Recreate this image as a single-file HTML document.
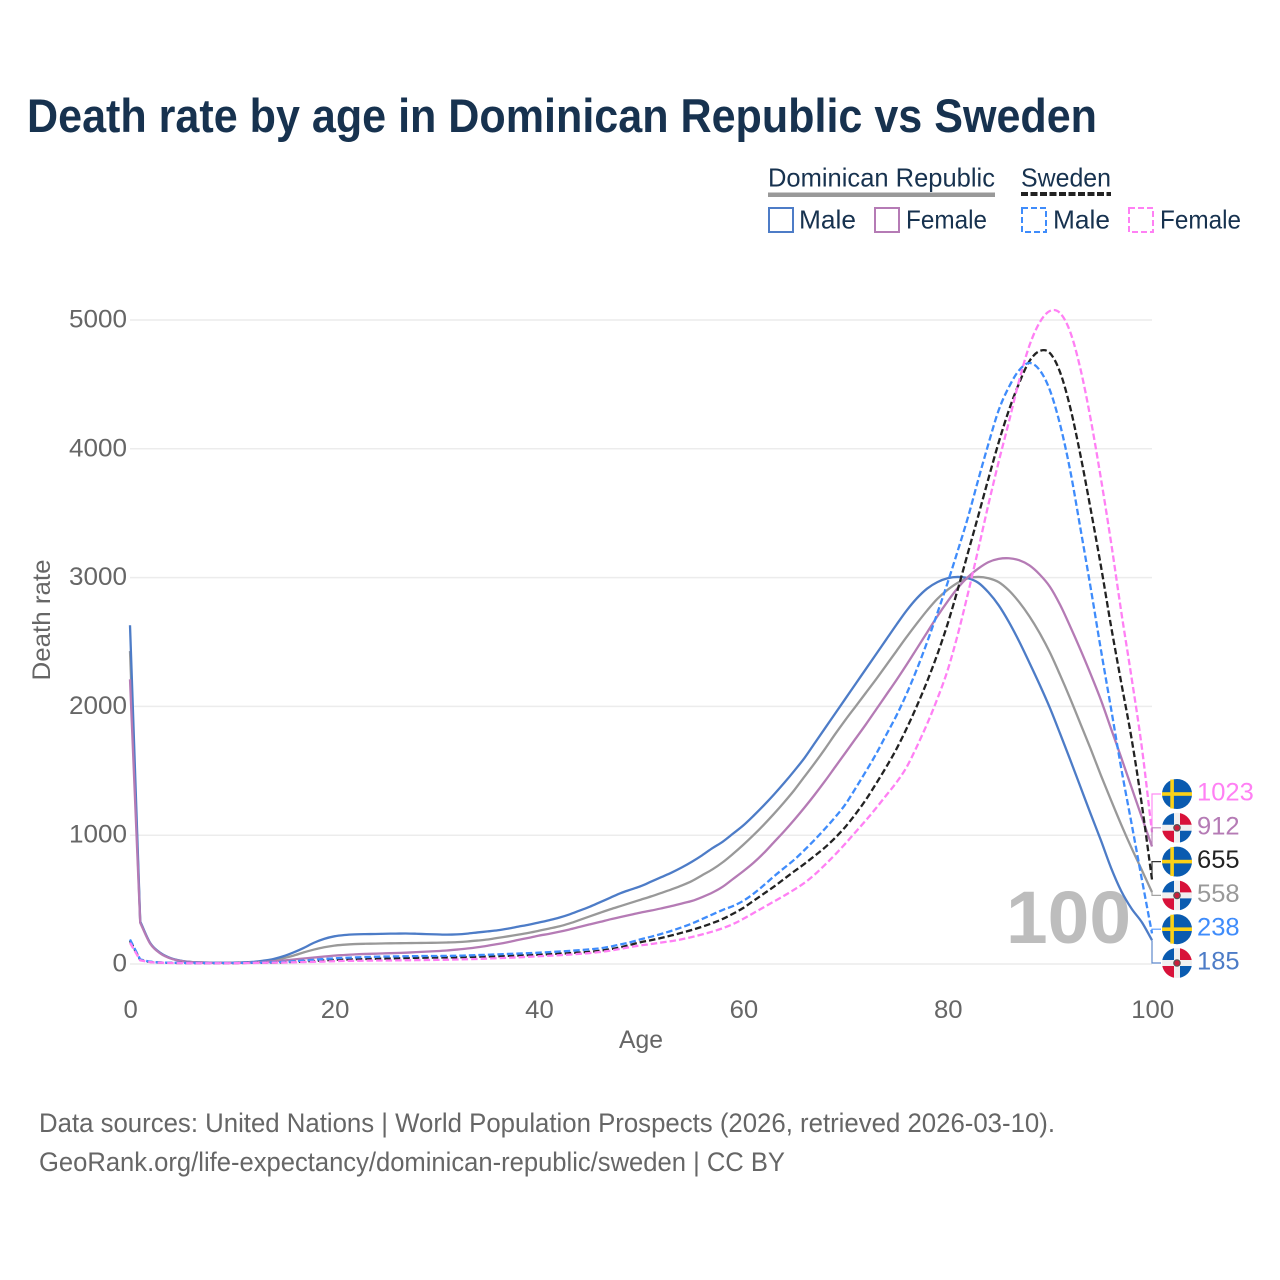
<!DOCTYPE html>
<html lang="en">
<head>
<meta charset="utf-8">
<title>Death rate by age in Dominican Republic vs Sweden</title>
<style>
html,body{margin:0;padding:0;background:#fff;}
svg{display:block;}
text{font-family:"Liberation Sans",sans-serif;}
</style>
</head>
<body>
<svg id="chart" xmlns="http://www.w3.org/2000/svg" width="1280" height="1280" viewBox="0 0 1280 1280">
  <rect x="0" y="0" width="1280" height="1280" fill="#fff"/>
  <text x="27" y="132" font-size="47" font-weight="700" fill="#17324f" textLength="1070" lengthAdjust="spacingAndGlyphs">Death rate by age in Dominican Republic vs Sweden</text>

  <g font-size="26" fill="#17324f">
    <text x="768" y="186.5" textLength="227" lengthAdjust="spacingAndGlyphs">Dominican Republic</text>
    <rect x="768" y="192.5" width="227" height="4.5" fill="#999"/>
    <text x="1021" y="186.5" textLength="90" lengthAdjust="spacingAndGlyphs">Sweden</text>
    <line x1="1021" y1="194" x2="1111" y2="194" stroke="#222" stroke-width="4" stroke-dasharray="7 2.5"/>
    <rect x="769" y="208" width="24" height="24" fill="none" stroke="#4d7cc7" stroke-width="2"/>
    <text x="799" y="228.5" textLength="57" lengthAdjust="spacingAndGlyphs">Male</text>
    <rect x="875" y="208" width="24" height="24" fill="none" stroke="#b57bb5" stroke-width="2"/>
    <text x="906" y="228.5" textLength="81" lengthAdjust="spacingAndGlyphs">Female</text>
    <rect x="1022" y="208" width="24" height="24" fill="none" stroke="#3f8cfb" stroke-width="2" stroke-dasharray="6 3"/>
    <text x="1053" y="228.5" textLength="57" lengthAdjust="spacingAndGlyphs">Male</text>
    <rect x="1129" y="208" width="24" height="24" fill="none" stroke="#ff80f4" stroke-width="2" stroke-dasharray="6 3"/>
    <text x="1160" y="228.5" textLength="81" lengthAdjust="spacingAndGlyphs">Female</text>
  </g>

  <g id="grid"></g>
  <g id="yticks" font-size="25" fill="#666"></g>
  <g id="xticks" font-size="25" fill="#666"></g>
  <text transform="translate(50,620) rotate(-90)" text-anchor="middle" font-size="25" fill="#666" textLength="121" lengthAdjust="spacingAndGlyphs">Death rate</text>
  <text x="641" y="1048" text-anchor="middle" font-size="25" fill="#666" textLength="44" lengthAdjust="spacingAndGlyphs">Age</text>

  <text id="age-marker" x="1006" y="943" font-size="74" font-weight="700" fill="#bdbdbd" textLength="125" lengthAdjust="spacingAndGlyphs">100</text>

  <g id="series"></g>
  <g id="labels"></g>

  <text x="39" y="1132" font-size="27" fill="#666" textLength="1016" lengthAdjust="spacingAndGlyphs">Data sources: United Nations | World Population Prospects (2026, retrieved 2026-03-10).</text>
  <text x="39" y="1171" font-size="27" fill="#666" textLength="746" lengthAdjust="spacingAndGlyphs">GeoRank.org/life-expectancy/dominican-republic/sweden | CC BY</text>
</svg>
<script>
const yTickValues = [0, 1000, 2000, 3000, 4000, 5000];
const xTickValues = [0, 20, 40, 60, 80, 100];

const drTotal = [
  2430,325,158,82,43,24,15,12,10,10,
  10,11,14,20,30,45,65,90,112,130,
  143,150,155,157,158,160,161,162,163,164,
  165,167,170,175,182,190,203,215,228,242,
  258,275,292,315,342,370,398,425,450,475,
  500,525,552,580,610,645,690,735,790,855,
  925,1000,1080,1165,1255,1350,1455,1560,1670,1785,
  1895,2000,2105,2210,2320,2430,2540,2645,2745,2835,
  2905,2960,2995,3005,2995,2965,2900,2810,2700,2570,
  2420,2245,2060,1865,1670,1465,1270,1080,900,730,
  558];
const drMale = [
  2630,330,160,85,45,25,15,12,10,10,
  10,12,16,25,38,60,90,125,165,195,
  215,225,230,232,233,235,236,237,235,232,
  230,228,230,236,245,253,262,275,290,305,
  322,340,360,385,415,445,480,515,550,578,
  605,640,675,710,750,795,845,900,950,1012,
  1075,1150,1230,1315,1405,1500,1600,1715,1830,1945,
  2060,2175,2290,2405,2520,2635,2745,2840,2915,2965,
  2995,3005,2995,2960,2885,2785,2655,2505,2340,2170,
  1990,1790,1585,1375,1165,960,745,565,430,325,
  185];
const drFemale = [
  2210,320,155,80,42,23,14,11,9,9,
  9,10,12,15,20,27,35,43,50,58,
  65,70,75,78,80,83,85,88,92,96,
  100,105,112,120,130,142,155,170,187,203,
  220,234,250,268,288,308,327,347,365,382,
  400,415,432,450,470,490,520,555,600,660,
  720,785,860,945,1030,1120,1215,1315,1420,1530,
  1640,1750,1860,1975,2090,2205,2325,2450,2575,2700,
  2815,2920,3005,3070,3120,3145,3150,3135,3095,3025,
  2930,2790,2620,2440,2250,2050,1825,1600,1370,1140,
  912];
const swTotal = [
  180,32,16,11,9,8,7,7,7,7,
  7,8,9,10,11,13,16,20,24,28,
  32,35,37,39,41,42,44,46,48,49,
  50,51,52,54,56,58,60,63,66,69,
  72,76,80,84,89,95,103,115,130,150,
  170,185,203,222,243,265,290,318,350,390,
  435,490,545,600,660,720,778,840,905,980,
  1065,1165,1275,1400,1530,1670,1830,2005,2195,2405,
  2640,2910,3195,3480,3770,4050,4300,4510,4680,4759,
  4744,4596,4320,3950,3530,3090,2620,2180,1750,1240,
  655];
const swMale = [
  190,35,18,12,10,9,8,8,8,8,
  8,9,10,11,13,16,21,27,33,39,
  44,48,51,54,56,58,59,60,61,62,
  62,63,64,66,69,72,75,78,81,84,
  88,92,97,102,108,114,122,135,152,170,
  192,212,234,258,285,315,350,385,420,450,
  490,545,610,680,745,810,885,965,1050,1140,
  1240,1365,1495,1630,1780,1930,2100,2290,2500,2725,
  2960,3210,3470,3760,4040,4300,4480,4610,4666,4612,
  4457,4190,3830,3380,2920,2440,1980,1515,1090,660,
  238];
const swFemale = [
  165,28,14,10,8,7,6,6,6,6,
  6,7,8,9,10,11,13,15,17,19,
  22,24,25,26,27,27,28,29,30,31,
  32,33,35,37,39,42,45,48,52,56,
  60,64,68,73,79,85,93,104,118,132,
  145,155,167,178,192,210,230,252,278,310,
  350,395,440,485,530,578,630,695,770,850,
  935,1025,1115,1210,1310,1410,1530,1690,1865,2060,
  2280,2560,2880,3220,3570,3900,4210,4530,4800,4980,
  5070,5054,4907,4620,4230,3770,3270,2730,2223,1685,
  1023];

const seriesList = [
  {key:'dr-total', values:drTotal, color:'#999999', dashed:false, country:'dr', labelColor:'#999999'},
  {key:'dr-male', values:drMale, color:'#4d7cc7', dashed:false, country:'dr', labelColor:'#4d7cc7'},
  {key:'dr-female', values:drFemale, color:'#b57bb5', dashed:false, country:'dr', labelColor:'#b57bb5'},
  {key:'sweden-total', values:swTotal, color:'#222222', dashed:true, country:'se', labelColor:'#222222'},
  {key:'sweden-male', values:swMale, color:'#3f8cfb', dashed:true, country:'se', labelColor:'#3f8cfb'},
  {key:'sweden-female', values:swFemale, color:'#ff80f4', dashed:true, country:'se', labelColor:'#ff80f4'}
];

const NS = 'http://www.w3.org/2000/svg';
function xScale(age){ return 130 + age * 10.22; }
function yScale(v){ return 964 - v * 0.1288; }
function mk(tag, attrs, parent){
  const el = document.createElementNS(NS, tag);
  for (const k in attrs) el.setAttribute(k, attrs[k]);
  parent.appendChild(el);
  return el;
}
function linePath(values){
  const last = values.length - 1;
  const tangent = function(i){
    if (i <= 1) return (values[i+1] - values[i]);
    if (i >= last) return (values[i] - values[i-1]);
    return (values[i+1] - values[i-1]) / 2;
  };
  let d = 'M' + xScale(0).toFixed(2) + ',' + yScale(values[0]).toFixed(2);
  d += ' L' + xScale(1).toFixed(2) + ',' + yScale(values[1]).toFixed(2);
  for (let i = 1; i < last; i++) {
    const c1 = values[i] + tangent(i) / 3;
    const c2 = values[i+1] - tangent(i+1) / 3;
    d += ' C' + xScale(i + 1/3).toFixed(2) + ',' + yScale(c1).toFixed(2) + ' ' +
         xScale(i + 2/3).toFixed(2) + ',' + yScale(c2).toFixed(2) + ' ' +
         xScale(i + 1).toFixed(2) + ',' + yScale(values[i+1]).toFixed(2);
  }
  return d;
}

const gridG = document.getElementById('grid');
const yG = document.getElementById('yticks');
const xG = document.getElementById('xticks');
yTickValues.forEach(function(v){
  const line = mk('line', {x1:130, x2:1152, y1:yScale(v), y2:yScale(v), stroke:'#ececec', 'stroke-width':1.5}, gridG);
  
  
  const t = mk('text', {x:127, y:yScale(v)+7.5, 'text-anchor':'end', textLength:String(v).length*14.5, lengthAdjust:'spacingAndGlyphs'}, yG);
  t.textContent = v;
  
  
});
xTickValues.forEach(function(v){
  const t = mk('text', {x:xScale(v)+0.7, y:1018, 'text-anchor':'middle', textLength:String(v).length*14.3, lengthAdjust:'spacingAndGlyphs'}, xG);
  t.textContent = v;
  
  
});

const seriesG = document.getElementById('series');
seriesList.forEach(function(s){
  const attrs = {d:linePath(s.values), fill:'none', stroke:s.color, 'stroke-width':2.3, 'stroke-linejoin':'round'};
  if (s.dashed) attrs['stroke-dasharray'] = '6.5 3';
  const line = mk('path', attrs, seriesG);
  
  
});

function drawFlag(g, country, cx, cy){
  const r = 15;
  if (country === 'se') {
    mk('circle', {cx:cx, cy:cy, r:r, fill:'#0a5bb0'}, g);
    const d = Math.sqrt(r*r - 25);
    mk('rect', {x:cx-6.7, y:cy-d-0.3, width:3.6, height:2*d+0.6, fill:'#fcd116'}, g);
    mk('rect', {x:cx-r, y:cy-1.8, width:2*r, height:3.6, fill:'#fcd116'}, g);
  } else {
    mk('circle', {cx:cx, cy:cy, r:r, fill:'#f0f0f0'}, g);
    const a = 3, b = Math.sqrt(r*r - a*a);
    const q = function(sx, sy, col, sweep){
      mk('path', {d:'M'+(cx+sx*a)+','+(cy+sy*a)+' L'+(cx+sx*a)+','+(cy+sy*b)+' A'+r+','+r+' 0 0 '+sweep+' '+(cx+sx*b)+','+(cy+sy*a)+' Z', fill:col}, g);
    };
    q(-1,-1,'#0a5bb0',0);
    q(1,-1,'#d8123a',1);
    q(-1,1,'#d8123a',1);
    q(1,1,'#0a5bb0',0);
    mk('circle', {cx:cx, cy:cy, r:3.8, fill:'#555'}, g);
    mk('circle', {cx:cx, cy:cy, r:2.6, fill:'#c8203c'}, g);
  }
}

const labelsG = document.getElementById('labels');
const ranked = seriesList.slice().sort(function(a, b){ return b.values[100] - a.values[100]; });
ranked.forEach(function(s, i){
  const slotY = 794 + i * 33.8;
  const endVal = s.values[100];
  const leader = mk('path', {d:'M1152,' + yScale(endVal).toFixed(1) + ' L1152,' + slotY + ' L1161,' + slotY, fill:'none', stroke:s.color, 'stroke-width':1.2, opacity:0.9}, labelsG);
  
  
  const flag = mk('g', {}, labelsG);
  
  
  drawFlag(flag, s.country, 1177, slotY);
  const t = mk('text', {x:1197, y:slotY+6.5, 'font-size':25, fill:s.labelColor, textLength:String(endVal).length*14.2, lengthAdjust:'spacingAndGlyphs'}, labelsG);
  t.textContent = endVal;
  
  
});
</script>
</body>
</html>
